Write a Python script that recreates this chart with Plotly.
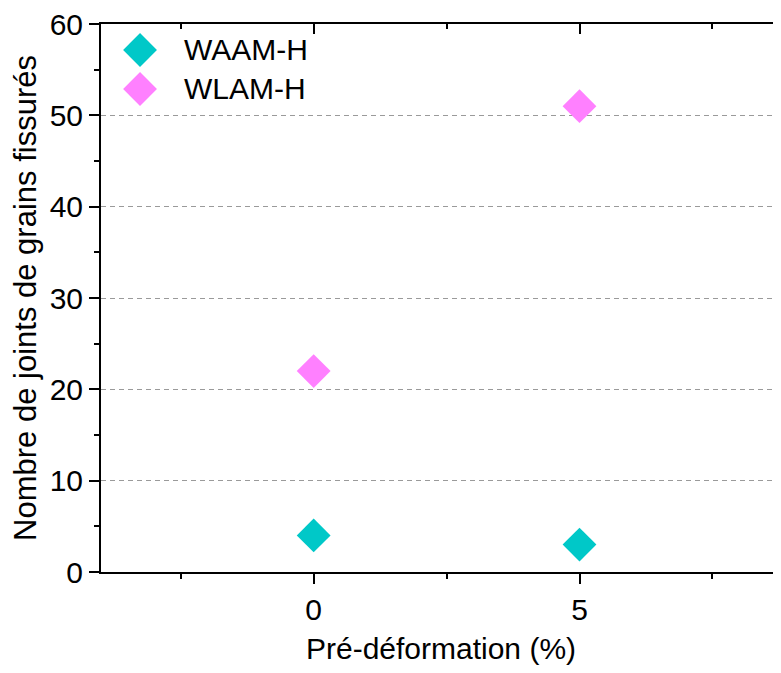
import plotly.graph_objects as go

pre_def = [0, 5]
waam_h = [4, 3]
wlam_h = [22, 51]
series_names = ["WAAM-H", "WLAM-H"]
series_values = [waam_h, wlam_h]
colors = ["#00C8C8", "#FF80FF"]

FONT = "Liberation Sans, Arial, sans-serif"
FS = 30
MSIZE = 26

fig = go.Figure()
for name, vals, col in zip(series_names, series_values, colors):
    fig.add_trace(go.Scatter(
        x=pre_def, y=vals, mode="markers", name=name, showlegend=False,
        marker=dict(symbol="diamond", size=MSIZE, color=col, line=dict(width=0)),
    ))
# invisible trace for top mirrored axis
fig.add_trace(go.Scatter(x=pre_def, y=waam_h, xaxis="x2", mode="markers",
                         marker=dict(opacity=0), showlegend=False, hoverinfo="skip"))

# custom legend (large markers) on an auxiliary axis pair
n = len(series_names)
for i, (name, col) in enumerate(zip(series_names, colors)):
    fig.add_trace(go.Scatter(
        x=[0], y=[n - 1 - i], xaxis="x3", yaxis="y3", mode="markers",
        marker=dict(symbol="diamond", size=MSIZE, color=col, line=dict(width=0)),
        showlegend=False, hoverinfo="skip", cliponaxis=False,
    ))
    fig.add_annotation(x=0, y=n - 1 - i, xref="x3", yref="y3", text=name,
                       showarrow=False, xanchor="left", yanchor="middle",
                       xshift=42, font=dict(size=FS, color="black", family=FONT))

xr = [-4, 8.79]
axis_common = dict(tickcolor="black", tickwidth=2, showline=True, linecolor="black",
                   linewidth=2, zeroline=False, automargin=False, ticklabeloverflow="allow")
fig.update_layout(
    width=773, height=657,
    margin=dict(l=93, r=0, t=16, b=93),
    paper_bgcolor="white", plot_bgcolor="white",
    font=dict(family=FONT, size=FS, color="black"),
    showlegend=False,
    xaxis=dict(
        range=xr, tick0=0, dtick=5, ticks="outside", ticklen=10, showgrid=False,
        minor=dict(tick0=0, dtick=2.5, ticks="outside", ticklen=5, tickwidth=2, tickcolor="black"),
        title=dict(text="Pré-déformation (%)", font=dict(size=FS), standoff=24),
        tickfont=dict(size=FS), **axis_common,
    ),
    xaxis2=dict(
        overlaying="x", side="top", range=xr, tick0=0, dtick=5, ticks="inside",
        ticklen=10, showgrid=False, showticklabels=False,
        minor=dict(tick0=0, dtick=2.5, ticks="inside", ticklen=5, tickwidth=2, tickcolor="black"),
        **axis_common,
    ),
    yaxis=dict(
        range=[0, 60], dtick=10, ticks="outside", ticklen=10,
        showgrid=True, gridcolor="#9A9A9A", griddash="5px,4px", gridwidth=1,
        minor=dict(dtick=5, ticks="outside", ticklen=5, tickwidth=2, tickcolor="black", showgrid=False),
        title=dict(text="Nombre de joints de grains fissurés", font=dict(size=31), standoff=5),
        tickfont=dict(size=FS), **axis_common,
    ),
    xaxis3=dict(domain=[0.0574, 0.4], range=[0, 1], visible=False, anchor="y3",
                fixedrange=True),
    yaxis3=dict(domain=[0.8814, 0.9526], range=[0, 1], visible=False, anchor="x3",
                fixedrange=True),
)

fig.write_html("out.html")
